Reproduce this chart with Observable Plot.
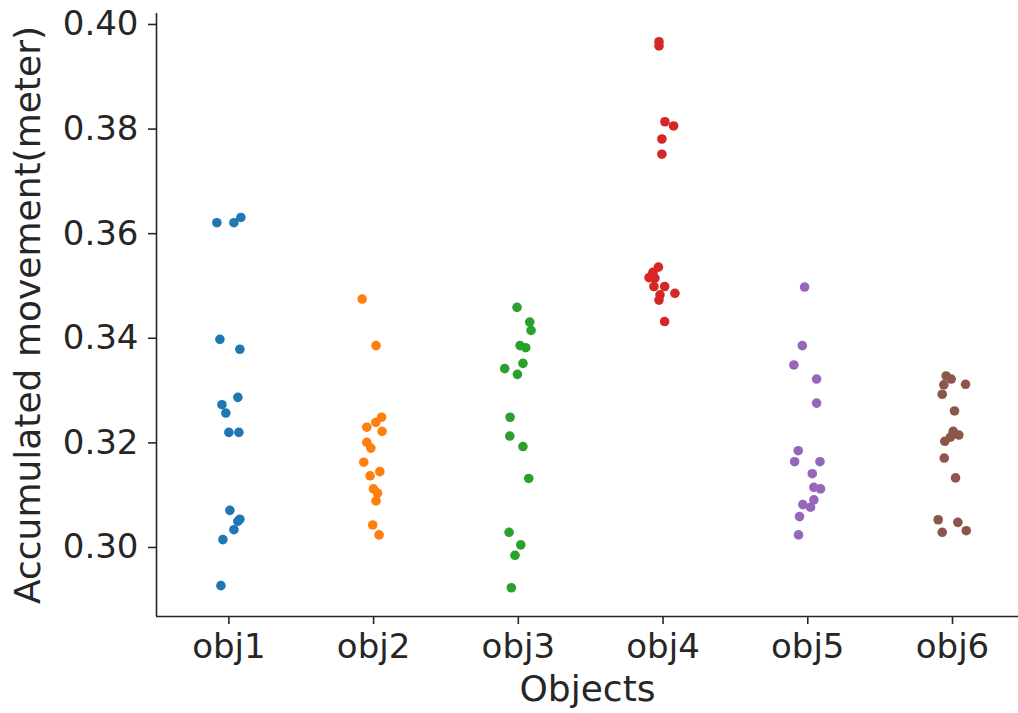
<!DOCTYPE html>
<html>
<head>
<meta charset="utf-8">
<script src="https://cdn.jsdelivr.net/npm/d3@7"></script>
<script src="https://cdn.jsdelivr.net/npm/@observablehq/plot@0.6"></script>
<style>
  html, body { margin: 0; padding: 0; background: white; }
</style>
</head>
<body>
<div id="chart"></div>
<script>
const categories = ["obj1", "obj2", "obj3", "obj4", "obj5", "obj6"];

const obj1Values = [0.3621, 0.3621, 0.3631, 0.3398, 0.3379, 0.3287, 0.3273, 0.3257, 0.3220, 0.3220, 0.3071, 0.3054, 0.3050, 0.3034, 0.3015, 0.2927];
const obj1Jitter = [-0.083, 0.035, 0.083, -0.062, 0.076, 0.062, -0.048, -0.021, 0.000, 0.069, 0.007, 0.076, 0.062, 0.035, -0.041, -0.055];

const obj2Values = [0.3475, 0.3386, 0.3249, 0.3239, 0.3230, 0.3222, 0.3201, 0.3190, 0.3163, 0.3145, 0.3137, 0.3112, 0.3104, 0.3089, 0.3043, 0.3024];
const obj2Jitter = [-0.079, 0.017, 0.055, 0.015, -0.047, 0.059, -0.047, -0.019, -0.068, 0.043, -0.024, -0.001, 0.027, 0.017, -0.006, 0.038];

const obj3Values = [0.3459, 0.3431, 0.3415, 0.3386, 0.3382, 0.3352, 0.3342, 0.3331, 0.3249, 0.3213, 0.3193, 0.3132, 0.3029, 0.3005, 0.2985, 0.2923];
const obj3Jitter = [-0.009, 0.079, 0.088, 0.012, 0.051, 0.032, -0.094, -0.006, -0.057, -0.059, 0.032, 0.072, -0.064, 0.017, -0.023, -0.048];

const obj4Values = [0.3967, 0.3959, 0.3814, 0.3806, 0.3781, 0.3752, 0.3536, 0.3526, 0.3516, 0.3515, 0.3499, 0.3499, 0.3483, 0.3473, 0.3486, 0.3432];
const obj4Jitter = [-0.028, -0.028, 0.013, 0.073, -0.008, -0.008, -0.032, -0.070, -0.097, -0.056, -0.063, 0.011, -0.021, -0.028, 0.082, 0.011];

const obj5Values = [0.3498, 0.3386, 0.3349, 0.3322, 0.3276, 0.3185, 0.3164, 0.3164, 0.3141, 0.3115, 0.3112, 0.3091, 0.3082, 0.3077, 0.3059, 0.3024];
const obj5Jitter = [-0.022, -0.038, -0.096, 0.061, 0.061, -0.066, -0.091, 0.084, 0.031, 0.042, 0.088, 0.042, -0.034, 0.019, -0.057, -0.064];

const obj6Values = [0.3328, 0.3322, 0.3311, 0.3312, 0.3293, 0.3261, 0.3222, 0.3215, 0.3211, 0.3203, 0.3171, 0.3133, 0.3053, 0.3048, 0.3029, 0.3032];
const obj6Jitter = [-0.044, -0.009, -0.060, 0.090, -0.071, 0.014, 0.005, 0.044, -0.014, -0.053, -0.057, 0.021, -0.099, 0.037, -0.071, 0.095];

const yTicks = [0.30, 0.32, 0.34, 0.36, 0.38, 0.40];
const yDomain = [0.2868, 0.4021];
const xDomain = [-0.5, 5.456];
const colors = d3.schemeCategory10.slice(0, 6);

const allValues = [obj1Values, obj2Values, obj3Values, obj4Values, obj5Values, obj6Values];
const allJitter = [obj1Jitter, obj2Jitter, obj3Jitter, obj4Jitter, obj5Jitter, obj6Jitter];

const data = categories.flatMap((cat, i) =>
  allValues[i].map((v, j) => ({cat, idx: i, jitter: allJitter[i][j], value: v}))
);

const axisColor = "#262626";

const chart = Plot.plot({
  width: 1018,
  height: 713,
  marginLeft: 156,
  marginRight: 0,
  marginTop: 13,
  marginBottom: 97,
  style: {fontFamily: "DejaVu Sans", background: "white", color: axisColor},
  x: {type: "linear", domain: xDomain},
  y: {domain: yDomain},
  color: {domain: categories, range: colors},
  marks: [
    Plot.axisX(d3.range(categories.length), {
      tickFormat: i => categories[i], fontSize: 34, tickSize: 8, tickPadding: 9,
      label: null, strokeWidth: 1.6
    }),
    Plot.axisY(yTicks, {
      tickFormat: d3.format(".2f"), fontSize: 34, tickSize: 8, tickPadding: 10,
      label: null, strokeWidth: 1.6
    }),
    Plot.ruleX([xDomain[0]], {stroke: axisColor, strokeWidth: 1.6}),
    Plot.ruleY([yDomain[0]], {stroke: axisColor, strokeWidth: 1.6}),
    Plot.dot(data, {x: d => d.idx + d.jitter, y: "value", fill: "cat", r: 4.8}),
    Plot.text(["Objects"], {text: d => d, frameAnchor: "bottom", lineAnchor: "middle", textAnchor: "middle", dy: 73, fontSize: 36, fill: axisColor}),
    Plot.text(["Accumulated movement(meter)"], {text: d => d, frameAnchor: "left", textAnchor: "middle", lineAnchor: "middle", rotate: -90, dx: -128, fontSize: 36, fill: axisColor})
  ]
});

document.getElementById("chart").appendChild(chart);
</script>
</body>
</html>
